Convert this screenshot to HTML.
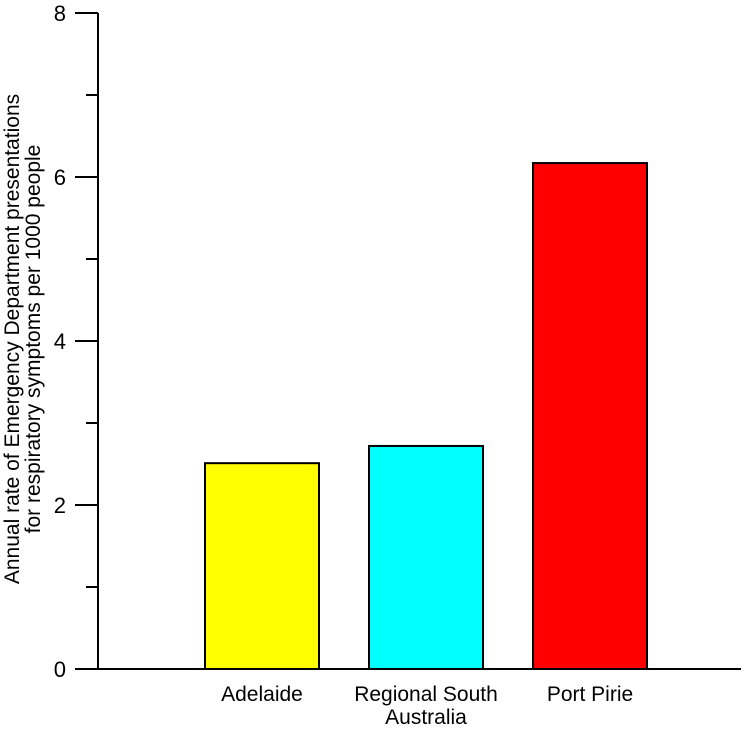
<!DOCTYPE html>
<html><head><meta charset="utf-8"><style>
body{margin:0;background:#fff}
svg text{font-family:"Liberation Sans",Arial,sans-serif;fill:#000}
</style></head><body>
<svg id="chart" width="754" height="728"></svg>
<script>
const categories=[["Adelaide"],["Regional South","Australia"],["Port Pirie"]];
const values=[2.51,2.72,6.17];
const colors=["#ffff00","#00ffff","#ff0000"];
const yTicks=[0,2,4,6,8];
const yMinor=[1,3,5,7];
const NS="http://www.w3.org/2000/svg";
const svg=document.getElementById('chart');
const x0=98,x1=741,yTop=13,yBot=669,yMax=8;
const y=v=>yBot-(v/yMax)*(yBot-yTop);
const barCenters=[262,426,590],barW=114;
function mk(t,a,p){const e=document.createElementNS(NS,t);for(const k in a)e.setAttribute(k,a[k]);(p||svg).appendChild(e);return e;}
values.forEach((v,i)=>{
 const r=mk('rect',{x:barCenters[i]-barW/2,y:y(v),width:barW,height:yBot-y(v),fill:colors[i],stroke:'#000','stroke-width':2});
 
 
 const t=mk('text',{x:barCenters[i],y:701,'font-size':21,'text-anchor':'middle'});
 
 
 categories[i].forEach((s,j)=>{const ts=mk('tspan',{x:barCenters[i],dy:j?23:0},t);ts.textContent=s;});
});
const ax=mk('line',{x1:x0,y1:yTop,x2:x0,y2:yBot,stroke:'#000','stroke-width':2});


const bx=mk('line',{x1:x0,y1:yBot,x2:x1,y2:yBot,stroke:'#000','stroke-width':2});


yTicks.forEach(v=>{
 mk('line',{x1:75,y1:y(v),x2:x0,y2:y(v),stroke:'#000','stroke-width':2});
 const t=mk('text',{x:66,y:y(v)+8,'font-size':22,'text-anchor':'end'});
 
 
 t.textContent=v;
});
yMinor.forEach(v=>mk('line',{x1:86,y1:y(v),x2:x0,y2:y(v),stroke:'#000','stroke-width':2}));
const yt=mk('text',{transform:'translate(19,339) rotate(-90)','font-size':21,'text-anchor':'middle'});


["Annual rate of Emergency Department presentations","for respiratory symptoms per 1000 people"].forEach((s,j)=>{const ts=mk('tspan',{x:0,dy:j?21:0},yt);ts.textContent=s;});
</script>
</body></html>
